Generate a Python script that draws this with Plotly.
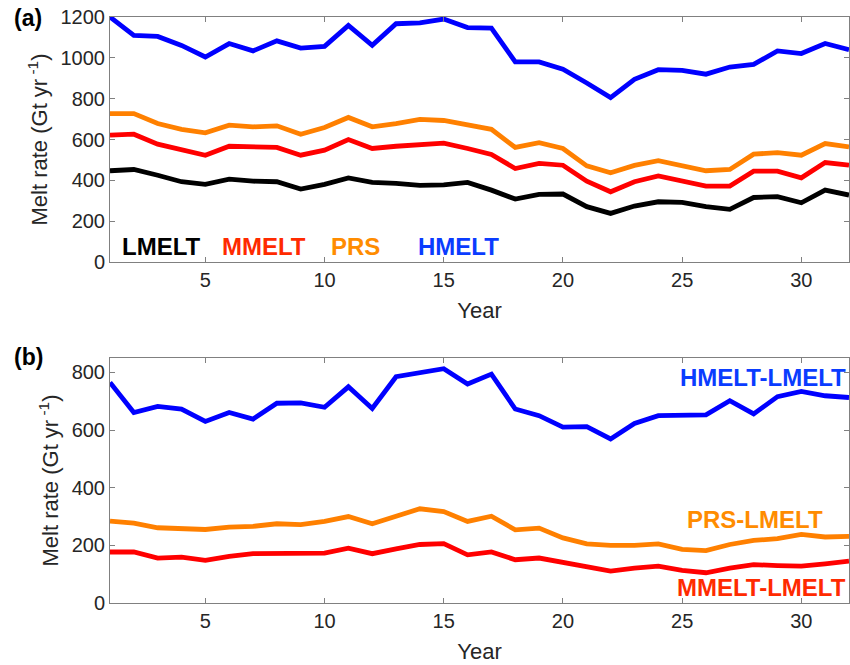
import plotly.graph_objects as go

years = list(range(1, 33))

hmelt = [1200, 1110, 1105, 1061, 1004, 1070, 1034, 1083, 1048, 1056, 1159, 1061, 1167, 1171, 1190,
         1148, 1146, 980, 980, 944, 877, 805, 895, 942, 939, 920, 955, 968, 1034, 1021, 1070, 1040]
prs = [727, 727, 678, 650, 633, 670, 662, 667, 626, 659, 708, 662, 678, 699, 693,
       673, 650, 561, 584, 556, 471, 437, 473, 496, 470, 447, 453, 528, 536, 523, 580, 564]
mmelt = [621, 626, 577, 551, 523, 567, 564, 561, 523, 548, 600, 556, 567, 575, 582,
         556, 527, 458, 483, 474, 396, 344, 393, 422, 398, 372, 372, 445, 445, 412, 487, 474]
lmelt = [447, 453, 425, 393, 380, 406, 396, 393, 357, 380, 412, 390, 385, 375, 378,
         390, 352, 308, 331, 333, 271, 238, 274, 295, 292, 271, 258, 316, 320, 290, 352, 328]

h_minus_l = [765, 661, 682, 673, 630, 661, 638, 693, 694, 679, 750, 675, 785, 798, 813,
             760, 794, 673, 650, 610, 612, 569, 623, 650, 650, 653, 702, 656, 716, 734, 719, 713]
p_minus_l = [284, 277, 261, 257, 255, 263, 266, 275, 272, 283, 300, 275, 300, 327, 317,
             283, 301, 254, 260, 226, 205, 200, 200, 205, 186, 182, 203, 217, 223, 238, 229, 231]
m_minus_l = [177, 177, 156, 159, 148, 162, 171, 171, 169, 173, 190, 171, 188, 203, 206,
             167, 177, 150, 156, 140, 127, 111, 121, 128, 113, 105, 121, 133, 130, 128, 136, 145]

xticks = [5, 10, 15, 20, 25, 30]
yticks_a = [0, 200, 400, 600, 800, 1000, 1200]
yticks_b = [0, 200, 400, 600, 800]

BLUE = "#0000FF"
RED = "#FF0000"
ORANGE = "#FF8000"
BLACK = "#000000"

W, H = 850, 665
ML, MR, MT, MB = 110, 1, 17, 62
PW = W - ML - MR
PH = H - MT - MB


def fx(px):
    return (px - ML) / PW


def fy(py):
    return (H - MB - py) / PH


FONT = "Liberation Sans, Arial, Helvetica, sans-serif"
TXT = "#262626"
AX = "#808080"

fig = go.Figure()
for ys, c in [(lmelt, BLACK), (mmelt, RED), (prs, ORANGE), (hmelt, BLUE)]:
    fig.add_trace(go.Scatter(x=years, y=ys, mode="lines", line=dict(color=c, width=4.8),
                             xaxis="x", yaxis="y", showlegend=False, hoverinfo="skip"))
for ys, c in [(m_minus_l, RED), (p_minus_l, ORANGE), (h_minus_l, BLUE)]:
    fig.add_trace(go.Scatter(x=years, y=ys, mode="lines", line=dict(color=c, width=4.8),
                             xaxis="x2", yaxis="y2", showlegend=False, hoverinfo="skip"))

axis_common = dict(showline=True, linecolor=AX, linewidth=1, mirror="ticks", ticks="inside",
                   ticklen=5, tickcolor=AX, showgrid=False, zeroline=False,
                   tickfont=dict(family=FONT, size=20, color=TXT))

ytitle = "Melt rate (Gt yr<sup> -1</sup>)"
tfont = dict(size=22, family=FONT, color=TXT)

fig.update_layout(
    width=W, height=H,
    margin=dict(l=ML, r=MR, t=MT, b=MB),
    paper_bgcolor="white", plot_bgcolor="white",
    font=dict(family=FONT, color=TXT),
    xaxis=dict(domain=[0, 1], range=[1, 32], tickvals=xticks, anchor="y",
               title=dict(text="Year", font=tfont, standoff=12), **axis_common),
    yaxis=dict(domain=[fy(262), fy(17)], range=[0, 1200], tickvals=yticks_a, anchor="x",
               title=dict(text=ytitle, font=tfont, standoff=6), **axis_common),
    xaxis2=dict(domain=[0, 1], range=[1, 32], tickvals=xticks, anchor="y2",
                title=dict(text="Year", font=tfont, standoff=12), **axis_common),
    yaxis2=dict(domain=[fy(603), fy(358)], range=[0, 850], tickvals=yticks_b, anchor="x2",
                title=dict(text=ytitle, font=tfont, standoff=6), **axis_common),
)

annots = [
    ("(a)", 12, 18, "left", BLACK, 23),
    ("(b)", 12, 357, "left", BLACK, 23),
    ("LMELT", 120, 246, "left", BLACK, 24),
    ("MMELT", 220, 246, "left", "#FF2A00", 24),
    ("PRS", 329, 246, "left", "#FF8C00", 24),
    ("HMELT", 416, 246, "left", "#0A3CFF", 24),
    ("HMELT-LMELT", 848, 377, "right", "#0A3CFF", 24),
    ("PRS-LMELT", 825, 519, "right", "#FF8C00", 24),
    ("MMELT-LMELT", 848, 587, "right", "#FF2A00", 24),
]
for text, px, py, anc, col, sz in annots:
    fig.add_annotation(text="<b>%s</b>" % text, x=fx(px), y=fy(py), xref="paper", yref="paper",
                       xanchor=anc, yanchor="middle", showarrow=False,
                       font=dict(family=FONT, size=sz, color=col))

fig.write_html("out.html", config={"displayModeBar": False},
               post_script="document.body.style.margin='0px';")
